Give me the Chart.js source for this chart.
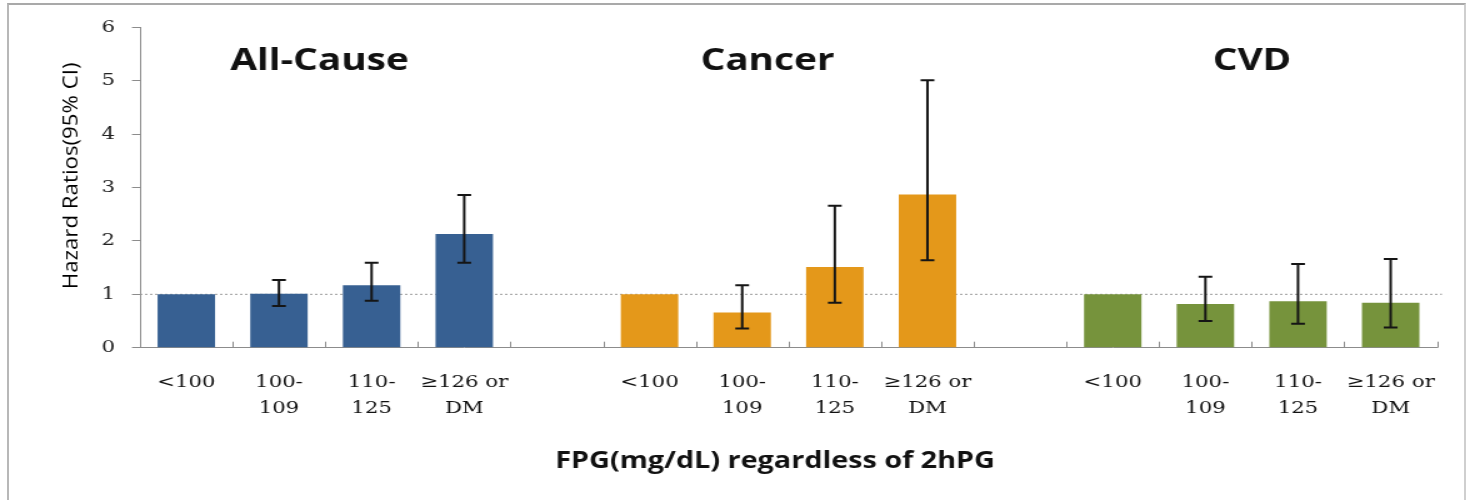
<!DOCTYPE html>
<html><head><meta charset="utf-8">
<script src="https://cdn.jsdelivr.net/npm/chart.js@4"></script>
<style>
html,body{margin:0;padding:0;background:#fff;overflow:hidden;}
#wrap{position:absolute;left:0;top:0;width:1174px;height:500px;transform:scaleX(1.25);transform-origin:0 0;}
#frame{position:absolute;left:7px;top:3px;width:1459px;height:520px;border-top:2px solid #a9a9a9;border-left:2px solid #b8b8b8;border-right:2px solid #cfcfcf;box-sizing:border-box;pointer-events:none;}
</style></head><body>
<div id="wrap"><canvas id="c" width="1174" height="500" style="width:1174px;height:500px"></canvas></div>
<div id="frame"></div>
<script>
// ---- data ----
const groupNames = ['All-Cause', 'Cancer', 'CVD'];
const fpgCategories = ['<100', ['100-', '109'], ['110-', '125'], ['\u2265126 or', 'DM']];
const allCauseHR = [1.00, 1.01, 1.17, 2.13];
const allCauseLo = [null, 0.78, 0.88, 1.59];
const allCauseHi = [null, 1.27, 1.59, 2.86];
const cancerHR = [1.00, 0.66, 1.51, 2.87];
const cancerLo = [null, 0.36, 0.84, 1.64];
const cancerHi = [null, 1.17, 2.66, 5.01];
const cvdHR = [1.00, 0.82, 0.87, 0.84];
const cvdLo = [null, 0.50, 0.45, 0.38];
const cvdHi = [null, 1.33, 1.57, 1.66];
const yTicks = [0, 1, 2, 3, 4, 5, 6];
const refLine = 1;
const xAxisTitle = 'FPG(mg/dL) regardless of 2hPG';
const yAxisTitle = 'Hazard Ratios(95% CI)';
const groupTitleAt = [1.437, 6.273, 11.503];
const xTitleAt = 6.355;
const yTitleAt = 3.22;
const groupColors = ['#376092', '#E4981A', '#76933C'];

// ---- build ----
const hrs = [allCauseHR, cancerHR, cvdHR];
const los = [allCauseLo, cancerLo, cvdLo];
const his = [allCauseHi, cancerHi, cvdHi];
const labels = [];
const groupStart = [];
groupNames.forEach((g, gi) => {
  groupStart.push(labels.length);
  fpgCategories.forEach(c => labels.push(c));
  if (gi < groupNames.length - 1) labels.push('');
});
function spread(arr, gi) {
  const out = new Array(labels.length).fill(null);
  arr.forEach((v, i) => { out[groupStart[gi] + i] = v; });
  return out;
}
const datasets = groupNames.map((g, gi) => ({
  label: g,
  data: spread(hrs[gi], gi),
  lo: spread(los[gi], gi),
  hi: spread(his[gi], gi),
  backgroundColor: groupColors[gi],
  borderWidth: 0,
  grouped: false,
  barPercentage: 0.62,
  categoryPercentage: 1.0
}));

const decor = {
  id: 'decor',
  beforeDatasetsDraw(chart) {
    const {ctx, chartArea} = chart;
    const y = chart.scales.y.getPixelForValue(refLine);
    ctx.save();
    ctx.strokeStyle = '#9a9a9a';
    ctx.lineWidth = 1;
    ctx.setLineDash([2, 2]);
    ctx.beginPath();
    ctx.moveTo(chartArea.left, y);
    ctx.lineTo(chartArea.right + 4, y);
    ctx.stroke();
    ctx.restore();
  },
  afterDatasetsDraw(chart) {
    const {ctx} = chart;
    const ys = chart.scales.y;
    ctx.save();
    ctx.strokeStyle = '#151515';
    ctx.lineWidth = 2;
    chart.data.datasets.forEach((ds, di) => {
      const meta = chart.getDatasetMeta(di);
      meta.data.forEach((el, j) => {
        const lo = ds.lo[j], hi = ds.hi[j];
        if (lo == null || hi == null) return;
        const x = el.x, y1 = ys.getPixelForValue(lo), y2 = ys.getPixelForValue(hi);
        ctx.beginPath();
        ctx.moveTo(x, y1); ctx.lineTo(x, y2);
        ctx.moveTo(x - 5.5, y1); ctx.lineTo(x + 5.5, y1);
        ctx.moveTo(x - 5.5, y2); ctx.lineTo(x + 5.5, y2);
        ctx.stroke();
      });
    });
    ctx.restore();
  },
  afterDraw(chart) {
    const {ctx, chartArea} = chart;
    const xs = chart.scales.x, ys = chart.scales.y;
    ctx.save();
    // inner tick marks on x axis at category boundaries
    ctx.strokeStyle = '#8c8c8c';
    ctx.lineWidth = 1;
    ctx.beginPath();
    for (let k = 1; k <= labels.length; k++) {
      const x = Math.round(xs.getPixelForValue(k - 0.5)) + 0.5;
      ctx.moveTo(x, chartArea.bottom);
      ctx.lineTo(x, chartArea.bottom - 6);
    }
    ctx.stroke();
    // group titles
    ctx.fillStyle = '#111';
    ctx.textAlign = 'center';
    ctx.textBaseline = 'alphabetic';
    ctx.font = 'bold 31px "Open Sans"';
    groupNames.forEach((g, gi) => {
      ctx.fillText(g, xs.getPixelForValue(groupTitleAt[gi]), chartArea.top + 42);
    });
    // x axis title
    ctx.font = 'bold 23px "Open Sans"';
    ctx.fillText(xAxisTitle, xs.getPixelForValue(xTitleAt), chartArea.bottom + 120.5);
    // y axis title
    ctx.fillStyle = '#000';
    ctx.translate(chartArea.left - 54.8, ys.getPixelForValue(yTitleAt));
    ctx.rotate(-Math.PI / 2);
    ctx.scale(1.31, 1);
    ctx.font = '17px "Open Sans"';
    ctx.textBaseline = 'middle';
    ctx.fillText(yAxisTitle, 0, 0);
    ctx.restore();
  }
};

new Chart(document.getElementById('c'), {
  type: 'bar',
  data: { labels, datasets },
  options: {
    responsive: false,
    animation: false,
    devicePixelRatio: 1,
    layout: { padding: { left: 0, right: 24.4, top: 27.5, bottom: 0 } },
    plugins: { legend: { display: false }, tooltip: { enabled: false } },
    scales: {
      x: {
        offset: true,
        grid: { drawOnChartArea: false, drawTicks: false },
        border: { display: true, color: '#8c8c8c', width: 1 },
        ticks: {
          padding: 22, color: '#111', autoSkip: false, maxRotation: 0, minRotation: 0,
          font: { family: 'DejaVu Serif', size: 17, lineHeight: 1.53 }
        },
        afterFit(s) { s.height = 152.3; }
      },
      y: {
        min: 0, max: 6,
        grid: { drawOnChartArea: false, drawTicks: true, tickLength: 6.4, color: '#8c8c8c' },
        border: { display: true, color: '#8c8c8c', width: 1 },
        ticks: { padding: 13.6, color: '#222', font: { family: 'DejaVu Serif', size: 17 } },
        afterBuildTicks(s) { s.ticks = yTicks.map(v => ({ value: v })); },
        afterFit(s) { s.width = 112; }
      }
    }
  },
  plugins: [decor]
});
</script>
</body></html>
